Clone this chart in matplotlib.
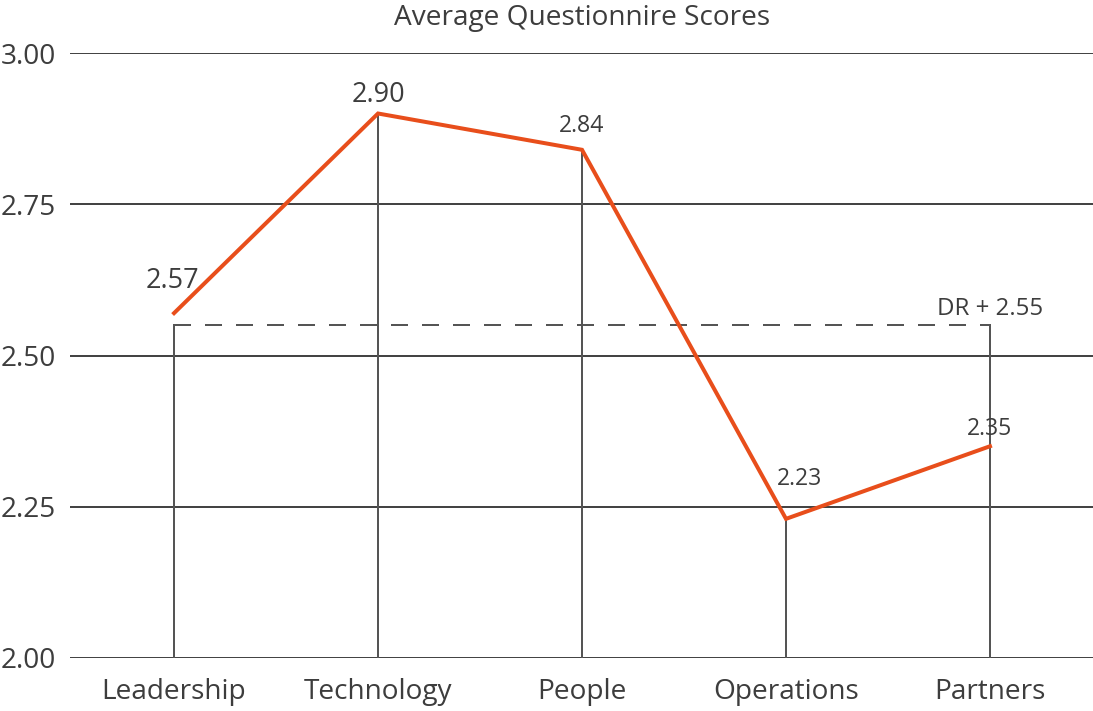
import matplotlib
matplotlib.use("Agg")
from matplotlib import pyplot as plt

categories = ["Leadership", "Technology", "People", "Operations", "Partners"]
scores = [2.57, 2.90, 2.84, 2.23, 2.35]
score_labels = ["2.57", "2.90", "2.84", "2.23", "2.35"]
dr_value = 2.55
y_ticks = [2.00, 2.25, 2.50, 2.75, 3.00]

plt.rcParams['font.family'] = ['Open Sans', 'DejaVu Sans']
plt.rcParams['lines.scale_dashes'] = False

grid_col = '#444444'
text_col = '#3d3d3d'
orange = '#E84E1B'

fig = plt.figure(figsize=(1093 / 72, 711 / 72), dpi=72)
ax = fig.add_axes([70 / 1093, 53 / 711, 1 - 70 / 1093, 605 / 711])

x = list(range(len(categories)))
ax.set_xlim(-0.51, 4.505)
ax.set_ylim(2.0, 3.0)

for t in y_ticks:
    ax.axhline(t, color=grid_col, lw=2, zorder=1)

# drop lines: the ends hang from the DR line, the middle ones from the score
for i, s in enumerate(scores):
    top = dr_value if i in (0, len(scores) - 1) else s
    ax.plot([i, i], [2.0, top], color='#555555', lw=2, zorder=2)

ax.plot([x[0], x[-1]], [dr_value, dr_value], color='#555555', lw=2,
        dashes=(17, 14), zorder=2)
ax.annotate("DR + 2.55", (x[-1], dr_value), xytext=(0, 10),
            textcoords='offset points', ha='center', va='baseline',
            fontsize=24, color=text_col)

ax.plot(x, scores, color=orange, lw=4, zorder=3, solid_joinstyle='miter')

offsets = [(-2, 25, 27), (0, 12, 27), (0, 18, 23), (14, 34, 23), (0, 11, 23)]
for i, (lab, (dx, dy, fs)) in enumerate(zip(score_labels, offsets)):
    ax.annotate(lab, (x[i], scores[i]), xytext=(dx, dy),
                textcoords='offset points', ha='center', va='baseline',
                fontsize=fs, color=text_col)

ax.set_xticks(x)
ax.set_xticklabels(categories, fontsize=28, color=text_col)
ax.set_yticks(y_ticks)
ax.set_yticklabels([f"{t:.2f}" for t in y_ticks], fontsize=28, color=text_col)
ax.tick_params(length=0)
ax.tick_params(axis='x', pad=20)
ax.tick_params(axis='y', pad=14)
for sp in ax.spines.values():
    sp.set_visible(False)

fig.text(582 / 1093, 1 - 18 / 711, "Average Questionnire Scores", ha='center',
         va='center', fontsize=28, color=text_col)

fig.savefig("out.png", dpi=72)
